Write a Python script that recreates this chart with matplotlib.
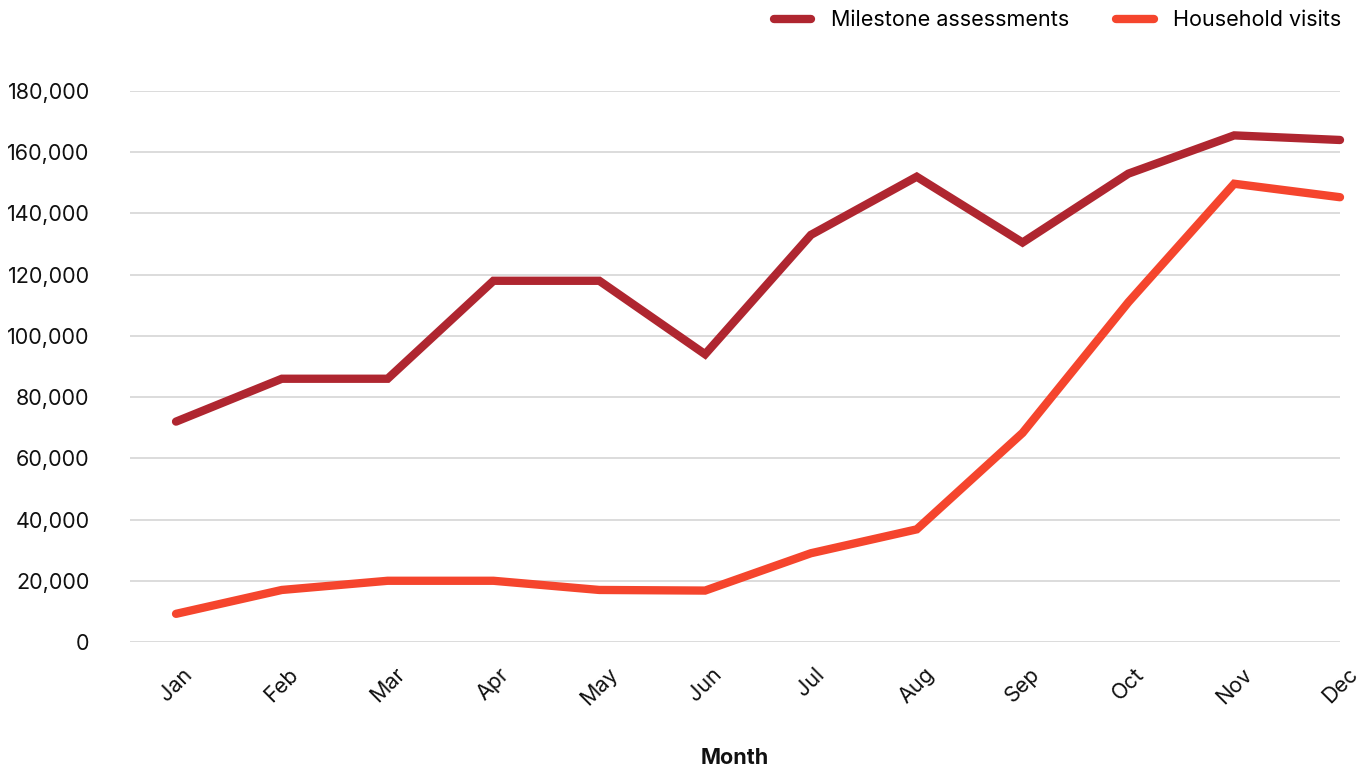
import matplotlib.pyplot as plt
from matplotlib.lines import Line2D
from matplotlib.ticker import FuncFormatter

plt.rcParams['font.family'] = ['Inter', 'DejaVu Sans']

months = ["Jan", "Feb", "Mar", "Apr", "May", "Jun", "Jul", "Aug", "Sep", "Oct", "Nov", "Dec"]
milestone = [72000, 86000, 86000, 118000, 118000, 94000, 133000, 152000, 130500, 153000, 165500, 164000]
household = [9200, 17000, 20000, 20000, 17000, 16800, 29000, 36800, 68300, 111000, 149700, 145300]

dark_red = "#AF2630"
orange = "#F5452D"

fig = plt.figure(figsize=(13.7, 7.69), dpi=100)
ax = fig.add_axes([130 / 1370, 127 / 769, 1210 / 1370, 551 / 769])

x = list(range(len(months)))
ax.plot(x, milestone, color=dark_red, lw=6, solid_capstyle="round", solid_joinstyle="miter", clip_on=False, zorder=3)
ax.plot(x, household, color=orange, lw=6, solid_capstyle="round", solid_joinstyle="miter", clip_on=False, zorder=3)

ax.set_xlim(-0.435, 11)
ax.set_ylim(0, 180000)
ax.set_yticks(range(0, 180001, 20000))
ax.yaxis.set_major_formatter(FuncFormatter(lambda v, p: f"{int(v):,}"))
ax.set_xticks(x)
ax.set_xticklabels(months, rotation=45, ha="center")
ax.tick_params(axis="both", length=0, labelsize=15.5, colors="#111111")
ax.tick_params(axis="y", pad=29)
ax.tick_params(axis="x", pad=16)
ax.grid(axis="y", color="#d9d9d9", lw=1.3)
ax.set_axisbelow(True)
for s in ax.spines.values():
    s.set_visible(False)

ax.set_xlabel("Month", fontsize=15.5, fontweight="bold", labelpad=28, color="#111111")

handles = [Line2D([], [], color=dark_red, lw=6, solid_capstyle="round"),
           Line2D([], [], color=orange, lw=6, solid_capstyle="round")]
fig.legend(handles, ["Milestone assessments", "Household visits"], loc="upper right",
           bbox_to_anchor=(1361 / 1370, 1.012), ncol=2, frameon=False, fontsize=15.5,
           handlelength=1.75, handletextpad=0.9, columnspacing=2.2)

fig.savefig("out.png", dpi=100)
